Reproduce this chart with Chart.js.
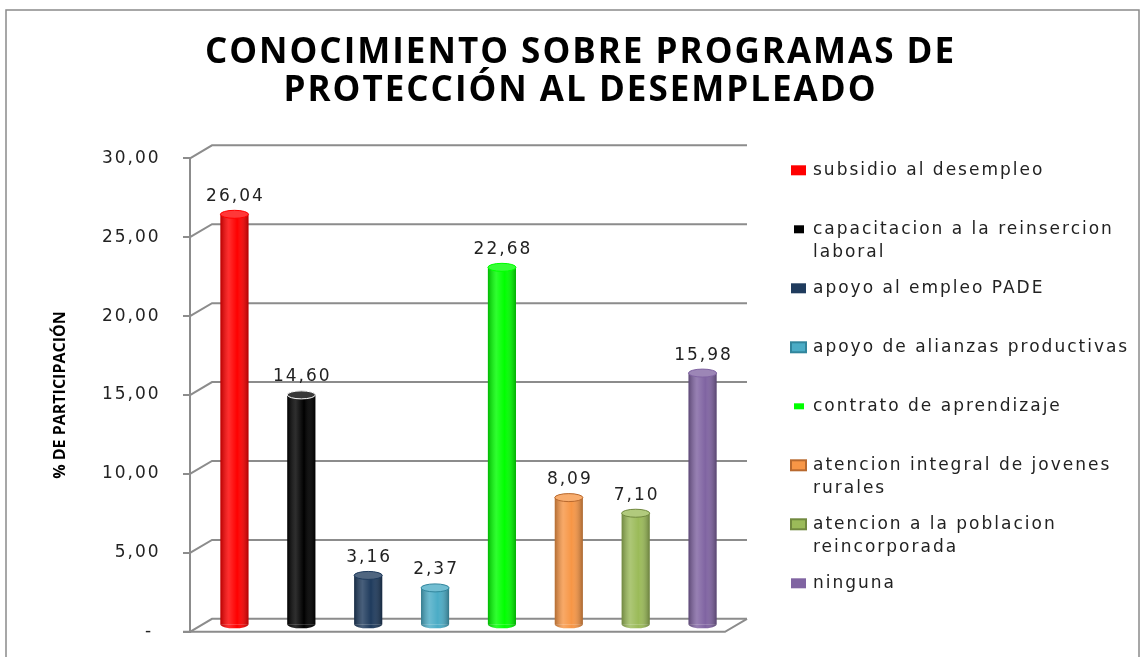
<!DOCTYPE html>
<html lang="es">
<head>
<meta charset="utf-8">
<script src="https://cdn.jsdelivr.net/npm/chart.js@4.4.0/dist/chart.umd.min.js"></script>
<title>Conocimiento sobre programas de protección al desempleado</title>
<style>
  html, body { margin: 0; padding: 0; background: #fff; }
  .container { position: relative; width: 1143px; height: 657px; }
</style>
</head>
<body>
<div class="container">
  <canvas id="myChart"></canvas>
</div>

<script>
// data
const programas = [
  'subsidio al desempleo',
  ['capacitacion a la reinsercion', 'laboral'],
  'apoyo al empleo PADE',
  'apoyo de alianzas productivas',
  'contrato de aprendizaje',
  ['atencion integral de jovenes', 'rurales'],
  ['atencion a la poblacion', 'reincorporada'],
  'ninguna'
];
const porcentajes = [26.04, 14.60, 3.16, 2.37, 22.68, 8.09, 7.10, 15.98];
const yTicks = [0, 5, 10, 15, 20, 25, 30];
const yTitulo = '% DE PARTICIPACIÓN';

// palette (fill / darker edge)
const colores = ['#ff0000', '#000000', '#1f3b5d', '#4bacc6', '#00ff00', '#f79646', '#9bbb59', '#8064a2'];
const bordes  = ['#ff0000', '#000000', '#1f3b5d', '#31859c', '#00ff00', '#b8692e', '#71893f', '#8064a2'];

const fmt = v => v === 0 ? '- ' : v.toFixed(2).replace('.', ',');

// 3d depth of the plot box
const DX = 22, DY = 13;

const fondo3d = {
  id: 'fondo3d',
  beforeDraw(chart) {
    const {ctx, width, height} = chart;
    ctx.save();
    ctx.fillStyle = '#fff';
    ctx.fillRect(0, 0, width, height);
    ctx.strokeStyle = '#8a8a8a';
    ctx.lineWidth = 1.5;
    ctx.strokeRect(6, 10, width - 10, height - 6);
    ctx.restore();
    // the source text is set wide
    ctx.letterSpacing = '2px';
  },
  beforeDatasetsDraw(chart) {
    const {ctx, chartArea: a, scales: {y}} = chart;
    ctx.save();
    ctx.strokeStyle = '#8c8c8c';
    ctx.lineWidth = 2;
    y.ticks.forEach(t => {
      const py = y.getPixelForValue(t.value);
      ctx.beginPath();
      ctx.moveTo(a.left, py);
      ctx.lineTo(a.left + DX, py - DY);
      ctx.lineTo(a.right + DX, py - DY);
      ctx.stroke();
    });
    // floor
    ctx.beginPath();
    ctx.moveTo(a.left - 7, a.bottom);
    ctx.lineTo(a.right, a.bottom);
    ctx.lineTo(a.right + DX, a.bottom - DY);
    ctx.stroke();
    ctx.restore();
    // bars sit halfway into the box
    ctx.save();
    ctx.translate(DX / 2, -DY / 2);
  },
  afterDatasetsDraw(chart) {
    const {ctx} = chart;
    const meta = chart.getDatasetMeta(0);
    meta.data.forEach((bar, i) => {
      const w = bar.width, x0 = bar.x - w / 2, rx = w / 2, ry = 4;
      // rounded bottom
      ctx.fillStyle = colores[i];
      ctx.beginPath();
      ctx.ellipse(bar.x, bar.base, rx, ry, 0, 0, Math.PI);
      ctx.fill();
      // cylinder shading
      const g = ctx.createLinearGradient(x0, 0, x0 + w, 0);
      g.addColorStop(0, 'rgba(0,0,0,0.28)');
      g.addColorStop(0.3, 'rgba(255,255,255,0.18)');
      g.addColorStop(0.6, 'rgba(255,255,255,0)');
      g.addColorStop(1, 'rgba(0,0,0,0.32)');
      ctx.fillStyle = g;
      ctx.beginPath();
      ctx.moveTo(x0, bar.y);
      ctx.lineTo(x0, bar.base);
      ctx.ellipse(bar.x, bar.base, rx, ry, 0, Math.PI, 0, true);
      ctx.lineTo(x0 + w, bar.y);
      ctx.closePath();
      ctx.fill();
      // top cap
      ctx.fillStyle = colores[i];
      ctx.beginPath();
      ctx.ellipse(bar.x, bar.y, rx, ry, 0, 0, Math.PI * 2);
      ctx.fill();
      ctx.fillStyle = 'rgba(255,255,255,0.22)';
      ctx.fill();
      ctx.strokeStyle = i === 1 ? '#ffffff' : bordes[i];
      ctx.lineWidth = 1;
      ctx.stroke();
      // value label
      ctx.fillStyle = '#222';
      ctx.font = '17px "DejaVu Sans"';
      ctx.textAlign = 'center';
      ctx.textBaseline = 'middle';
      ctx.fillText(fmt(porcentajes[i]), bar.x + 1, bar.y - 18);
    });
    ctx.restore();
  },
  afterDraw(chart) {
    const {ctx, chartArea: a} = chart;
    // y axis title, narrow bold
    ctx.save();
    ctx.letterSpacing = '0px';
    ctx.translate(60, (a.top + a.bottom) / 2);
    ctx.rotate(-Math.PI / 2);
    ctx.font = 'bold 16px "Open Sans"';
    ctx.fillStyle = '#000';
    ctx.textAlign = 'center';
    ctx.textBaseline = 'middle';
    ctx.fillText(yTitulo, 0, 0);
    ctx.restore();

    // legend on the right, wrapped labels
    const x0 = a.right + 66, tx = x0 + 22;
    ctx.save();
    ctx.letterSpacing = '2px';
    ctx.font = '17px "DejaVu Sans"';
    ctx.textAlign = 'left';
    ctx.textBaseline = 'middle';
    programas.forEach((lab, i) => {
      const yy = a.top + 12 + i * 59;
      ctx.fillStyle = colores[i];
      if (bordes[i] !== colores[i]) {
        ctx.fillRect(x0, yy - 5, 15, 10);
        ctx.strokeStyle = bordes[i];
        ctx.lineWidth = 2;
        ctx.strokeRect(x0, yy - 5, 15, 10);
      } else if (i === 1 || i === 4) {
        // the thin series get a small key in the source
        ctx.fillRect(x0 + 3, yy - (i === 1 ? 4 : 3), 10, i === 1 ? 8 : 6);
      } else {
        ctx.fillRect(x0, yy - 5, 15, 10);
      }
      ctx.fillStyle = '#222';
      [].concat(lab).forEach((ln, k) => ctx.fillText(ln, tx, yy + k * 23));
    });
    ctx.restore();
  }
};

const ctx = document.getElementById('myChart').getContext('2d');
const barChart = new Chart(ctx, {
  type: 'bar',
  plugins: [fondo3d],
  data: {
    labels: programas,
    datasets: [{
      label: yTitulo,
      data: porcentajes,
      backgroundColor: colores,
      borderWidth: 0,
      barPercentage: 0.42,
      categoryPercentage: 1
    }]
  },
  options: {
    responsive: true,
    maintainAspectRatio: false,
    animation: false,
    layout: { padding: { left: 18, right: 0, top: 0, bottom: 15 } },
    plugins: {
      legend: { display: false },
      tooltip: { enabled: false },
      title: {
        display: true,
        text: ['CONOCIMIENTO SOBRE PROGRAMAS DE', 'PROTECCIÓN AL DESEMPLEADO'],
        color: '#000',
        font: { family: '"Open Sans"', size: 35, weight: 'bold', lineHeight: 1.09 },
        padding: { top: 34, bottom: 48 }
      }
    },
    scales: {
      x: { display: false },
      y: {
        min: yTicks[0],
        max: yTicks[yTicks.length - 1],
        afterBuildTicks: s => { s.ticks = yTicks.map(v => ({value: v})); },
        afterFit: s => { s.width = 172; },
        grid: { drawOnChartArea: false, drawTicks: true, tickLength: 7, color: '#8c8c8c', lineWidth: 2 },
        border: { display: true, color: '#8c8c8c', width: 2 },
        ticks: {
          padding: 15,
          color: '#222',
          font: { family: '"DejaVu Sans"', size: 17 },
          callback: v => fmt(v) + ' '
        }
      },
      yR: {
        position: 'right',
        display: true,
        grid: { display: false },
        border: { display: false },
        ticks: { display: false },
        afterFit: s => { s.width = 418; }
      }
    }
  }
});
</script>
</body>
</html>
